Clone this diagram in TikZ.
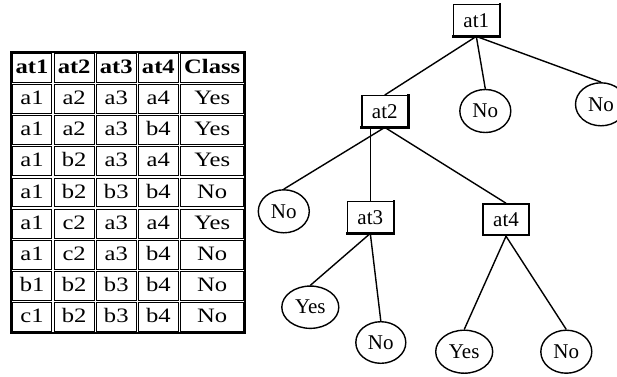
\documentclass[tikz,border=0pt]{standalone}
\usepackage{fontspec}
\setmainfont{Liberation Serif}
\usetikzlibrary{shapes.geometric}
\begin{document}
\begin{tikzpicture}[x=1pt,y=-1pt,
  tabcell/.style={draw, line width=0.9pt, inner sep=0pt, minimum height=28.8pt,
    text height=14.5pt, text depth=3pt, font=\fontsize{20.5}{24}\selectfont},
  decision/.style={draw, line width=1.4pt, rectangle, minimum width=46pt,
    minimum height=31pt, inner sep=0pt, font=\fontsize{21}{24}\selectfont},
  leaf/.style={draw, line width=1.4pt, ellipse, minimum width=51pt,
    minimum height=43pt, inner sep=0pt, font=\fontsize{21}{24}\selectfont},
  boxshade/.style={line width=2.2pt, line cap=rect},
  branch/.style={line width=1.4pt}]
\useasboundingbox (0,0) rectangle (617,376);

% ---------- training table ----------
\def\colx{{32.05,74.15,116.25,158.35,212.2}}
\def\colw{{42.1,42.1,42.1,42.1,65.6}}
\draw[line width=1.4pt] (11,52) rectangle (245,332.8);
\foreach \row [count=\r from 0] in {
  {at1,at2,at3,at4,Class},
  {a1,a2,a3,a4,Yes},
  {a1,a2,a3,b4,Yes},
  {a1,b2,a3,a4,Yes},
  {a1,b2,b3,b4,No},
  {a1,c2,a3,a4,Yes},
  {a1,c2,a3,b4,No},
  {b1,b2,b3,b4,No},
  {c1,b2,b3,b4,No}} {
  \foreach \txt [count=\c] in \row {
    \pgfmathsetmacro\cx{\colx[\c-1]}
    \pgfmathsetmacro\cw{\colw[\c-1]-2.4}
    \node[tabcell, minimum width=\cw pt] (cell-\r-\c) at (\cx, 52+31.2*\r+15.6)
      {\ifnum\r=0 \bfseries\fi\scalebox{1.2}[1]{\txt}};
  }
}

% ---------- decision tree ----------
\node[decision] (at1) at (476.3,20.2) {at1};
\node[decision] (at2) at (384.8,111.2) {at2};
\node[decision] (at3) at (370.3,217.2) {at3};
\node[decision, line width=2pt] (at4) at (506,219.7) {at4};

% heavier right and bottom edges of the attribute boxes
\foreach \b in {at1,at2,at3}
  \draw[boxshade] (\b.north east) -- (\b.south east) -- (\b.south west);

\node[leaf] (no1) at (485.3,111) {No};
\node[leaf] (no2) at (601,104.3) {No};
\node[leaf] (noL) at (283.8,211.3) {No};
\node[leaf, minimum width=57pt, minimum height=42.3pt] (yes3) at (310.3,307.2) {Yes};
\node[leaf, minimum width=50pt, minimum height=41.6pt] (no3) at (380.8,342.5) {No};
\node[leaf, minimum width=57pt] (yes4) at (464.2,351.7) {Yes};
\node[leaf] (no4) at (566.3,351.7) {No};

\draw[branch] (at1.south) -- (at2.north);
\draw[branch] (at1.south) -- (no1.north);
\draw[branch] (at1.south) -- (no2.north);
\draw[branch] (at2.south) -- (noL.north);
\draw[branch] (at3.north |- at2.south) -- (at3.north);
\draw[branch] (at2.south) -- (at4.north);
\draw[branch] (at3.south) -- (yes3.north);
\draw[branch] (at3.south) -- (no3.north);
\draw[branch] (at4.south) -- (yes4.north);
\draw[branch] (at4.south) -- (no4.north);
\end{tikzpicture}
\end{document}
